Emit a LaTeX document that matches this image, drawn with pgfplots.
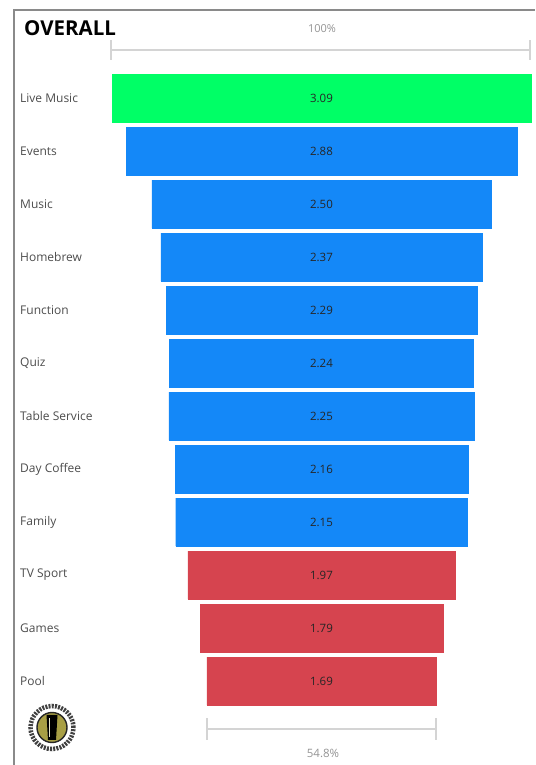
\documentclass[border=0pt]{standalone}
\usepackage{pgfplots}
\pgfplotsset{compat=1.18}
\usepackage{pgfplotstable}
\usepackage{fontspec}
\setmainfont{Open Sans}
\definecolor{cgreen}{HTML}{00FF66}
\definecolor{cblue}{HTML}{1488F8}
\definecolor{cred}{HTML}{D6444F}
\definecolor{cframe}{HTML}{8A8A8A}
\definecolor{cline}{HTML}{D4D4D4}
\definecolor{olive}{HTML}{A89F45}

\pgfplotstableread{
i v
0 3.09
}\greentab
\pgfplotstableread{
i v
1 2.88
2 2.50
3 2.37
4 2.29
5 2.24
6 2.25
7 2.16
8 2.15
}\bluetab
\pgfplotstableread{
i v
9 1.97
10 1.79
11 1.69
}\redtab

\begin{document}
\begin{tikzpicture}
\begin{axis}[
  at={(0,0)}, anchor=south west,
  scale only axis, width=535pt, height=765pt,
  xmin=-2.3709, xmax=1.5745,
  ymin=-1.8491, ymax=12.585, y dir=reverse,
  axis line style={draw=none},
  xtick=\empty,
  ytick={0,...,11},
  yticklabels={Live Music,Events,Music,Homebrew,Function,Quiz,Table Service,Day Coffee,Family,TV Sport,Games,Pool},
  major tick length=0pt,
  yticklabel style={anchor=west, inner sep=0pt, xshift=20pt, font=\fontsize{12}{14}\selectfont, text=black!70},
  clip=false,
  bar width=48pt,
  /pgf/number format/.cd, fixed, zerofill, precision=2, assume math mode=true,
  /pgfplots/.cd,
  every node near coord/.style={anchor=center, font=\fontsize{11.5}{13}\selectfont, text=black!85},
]
% bars (two halves around centre)
\addplot[xbar, bar shift=0pt, fill=cgreen, draw=cgreen, line width=0.3pt] table[x expr=\thisrow{v}/2, y=i] {\greentab};
\addplot[xbar, bar shift=0pt, fill=cgreen, draw=cgreen, line width=0.3pt] table[x expr=-\thisrow{v}/2, y=i] {\greentab};
\addplot[xbar, bar shift=0pt, fill=cblue, draw=cblue, line width=0.3pt] table[x expr=\thisrow{v}/2, y=i] {\bluetab};
\addplot[xbar, bar shift=0pt, fill=cblue, draw=cblue, line width=0.3pt] table[x expr=-\thisrow{v}/2, y=i] {\bluetab};
\addplot[xbar, bar shift=0pt, fill=cred, draw=cred, line width=0.3pt] table[x expr=\thisrow{v}/2, y=i] {\redtab};
\addplot[xbar, bar shift=0pt, fill=cred, draw=cred, line width=0.3pt] table[x expr=-\thisrow{v}/2, y=i] {\redtab};
% value labels
\addplot[draw=none, mark=none, nodes near coords, point meta=explicit] table[x expr=0, y=i, meta=v] {\greentab};
\addplot[draw=none, mark=none, nodes near coords, point meta=explicit] table[x expr=0, y=i, meta=v] {\bluetab};
\addplot[draw=none, mark=none, nodes near coords, point meta=explicit] table[x expr=0, y=i, meta=v] {\redtab};
\end{axis}
% frame
\draw[cframe, line width=1.8pt] (14pt,0pt) -- (14pt,755pt) -- (535pt,755pt);
% title
\node[anchor=west, inner sep=0pt, font=\fontsize{20.5}{24}\selectfont\bfseries] at (24pt,737pt) {OVERALL};
% 100% measure
\node[font=\fontsize{11}{13}\selectfont, text=black!42] at (322pt,736pt) {100\%};
\draw[cline, line width=1.3pt] (111pt,715pt) -- (530pt,715pt);
\draw[cline, line width=1.3pt] (111pt,705pt) -- (111pt,725pt);
\draw[cline, line width=1.3pt] (530pt,705pt) -- (530pt,725pt);
% 54.8% measure
\draw[cline, line width=1.3pt] (207pt,36pt) -- (436pt,36pt);
\draw[cline, line width=1.3pt] (207pt,25pt) -- (207pt,47pt);
\draw[cline, line width=1.3pt] (436pt,25pt) -- (436pt,47pt);
\node[font=\fontsize{11.5}{13}\selectfont, text=black!42] at (323pt,12pt) {54.8\%};
% logo
\fill[white] (52pt,37.5pt) circle (28pt);
\draw[black!75, line width=4.5pt, dash pattern=on 2pt off 1.2pt] (52pt,37.5pt) circle (21.5pt);
\fill[olive] (52pt,37.5pt) circle (15pt);
\draw[black!85, line width=1.4pt] (52pt,37.5pt) circle (15pt);
\fill[black] (48pt,25pt) -- (56pt,25pt) -- (57.5pt,50pt) -- (46.5pt,50pt) -- cycle;
\fill[white!75!olive] (48.6pt,47pt) rectangle (50.2pt,28pt);
\pgfresetboundingbox
\path (0,0) rectangle (535pt,765pt);
\end{tikzpicture}
\end{document}
